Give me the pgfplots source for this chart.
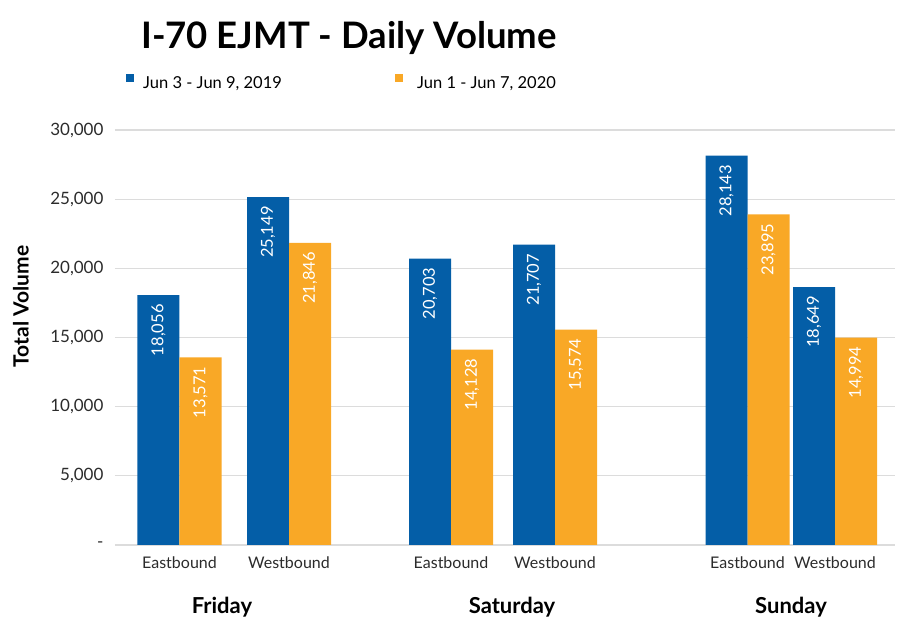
\documentclass[border=0pt]{standalone}
\usepackage{pgfplots}
\pgfplotsset{compat=1.18}
\usepackage{fontspec}
\setmainfont{Lato}
\definecolor{cblue}{HTML}{045EA7}
\definecolor{corange}{HTML}{F9A826}
\definecolor{gridgray}{HTML}{DCDCDC}
\definecolor{txt}{HTML}{2B2B2B}
\begin{document}
\begin{tikzpicture}
\begin{axis}[
  at={(115pt,79pt)}, anchor=south west,
  scale only axis, width=780pt, height=415pt,
  xmin=115, xmax=895, ymin=0, ymax=30000,
  ybar, bar width=42, bar shift=0pt,
  axis line style={draw=none},
  major tick length=0pt,
  scaled y ticks=false,
  ymajorgrids, grid style={draw=gridgray, line width=1.2pt},
  ytick={0,5000,10000,15000,20000,25000,30000},
  yticklabels={{-},{5,000},{10,000},{15,000},{20,000},{25,000},{30,000}},
  xtick={179.5,289,451,555,747.5,835},
  xticklabels={Eastbound,Westbound,Eastbound,Westbound,Eastbound,Westbound},
  yticklabel style={font=\fontsize{17}{20}\selectfont, text=txt, xshift=-8pt},
  xticklabel style={font=\fontsize{16}{19}\selectfont, text=txt, yshift=-8pt},
  ylabel={Total Volume},
  ylabel style={at={(axis description cs:-0.1205,0.575)}, rotate=0, anchor=center, font=\bfseries\fontsize{21}{24}\selectfont},
  clip=false,
  /pgf/number format/assume math mode=true,
  /pgf/number format/.cd, fixed, precision=0, 1000 sep={,},
  /pgfplots/.cd,
  nodes near coords,
  nodes near coords style={rotate=90, anchor=east, text=white, inner xsep=9pt, inner ysep=0pt, font=\fontsize{16.5}{19}\selectfont},
  legend image code/.code={\fill[#1, draw=none] (0pt,1pt) rectangle (8pt,9pt);},
  legend columns=2,
  legend style={at={(rel axis cs:0.0141,1.1157)}, anchor=west, draw=none, fill=none, inner sep=0pt, column sep=0pt, nodes={inner sep=0pt}, font=\fontsize{16.5}{20}\selectfont},
]
\addplot[fill=cblue, draw=none] coordinates {(158.5,18056) (268,25149) (430,20703) (534,21707) (726.5,28143) (814,18649)};
\addplot[fill=corange, draw=none] coordinates {(200.5,13571) (310,21846) (472,14128) (576,15574) (768.5,23895) (856,14994)};
\legend{{\makebox[261pt][l]{\hspace{9pt}Jun 3 - Jun 9, 2019}}, {\hspace{14pt}Jun 1 - Jun 7, 2020}}
\node[font=\bfseries\fontsize{22}{26}\selectfont, text=black] at (axis cs:222,-4480) {Friday};
\node[font=\bfseries\fontsize{22}{26}\selectfont, text=black] at (axis cs:512,-4480) {Saturday};
\node[font=\bfseries\fontsize{22}{26}\selectfont, text=black] at (axis cs:791,-4480) {Sunday};
\end{axis}
\node[anchor=base west, inner sep=0pt, font=\bfseries\fontsize{36.5}{42}\selectfont] at (141pt,575pt) {I-70 EJMT - Daily Volume};
\pgfresetboundingbox
\path[use as bounding box] (0,0) rectangle (900pt,624pt);
\end{tikzpicture}
\end{document}
